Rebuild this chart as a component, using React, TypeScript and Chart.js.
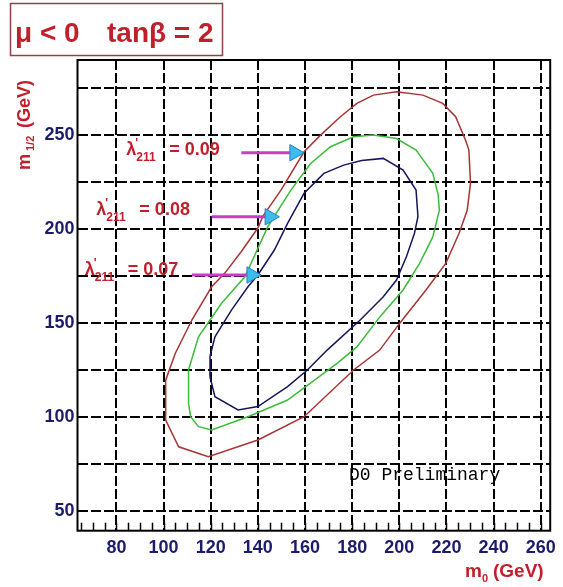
import React, { useEffect, useRef } from "react";
import { Chart, registerables } from "chart.js";

Chart.register(...registerables);

// ---- axes ----
const m0Range = [63.5, 264];
const mHalfRange = [39.3, 290];
const m0TickLabels = [80, 100, 120, 140, 160, 180, 200, 220, 240, 260];
const mHalfTickLabels = [50, 100, 150, 200, 250];
const m0Step = 20;
const mHalfStep = 25;
const m0MinorStep = 5;

// ---- contour lambda'211 = 0.09 (red, outer) ----
const red_m0 = [100.9, 105, 112, 120.4, 126, 133, 140, 142.1, 149.8, 159.6, 166.6, 175, 182, 189, 198.8, 210, 218.4, 223.9, 228.1, 229.5, 230.2, 228.8, 225.3, 219.7, 211.3, 200.1, 191.7, 180.6, 159.6, 140, 119, 106.4, 100.9];
const red_mhalf = [119.5, 133.8, 151.5, 169.2, 176.5, 188, 200.5, 206.7, 220.7, 241.1, 250, 259.8, 266.9, 271.3, 273.1, 271.3, 266.9, 259.8, 247.3, 242, 224.3, 210, 197.6, 181.7, 167.5, 149.7, 135.5, 124.9, 100, 87.6, 78.7, 84, 98.2];

// ---- contour lambda'211 = 0.08 (green, middle) ----
const green_m0 = [110.6, 110.6, 114.8, 124.6, 134.5, 144.2, 154, 162.4, 170.8, 180.6, 189, 198.8, 207.1, 214.2, 216.5, 217, 214.2, 208.6, 201.6, 191.8, 182, 173.6, 152.6, 135.8, 120.4, 114.8, 111.5];
const green_mhalf = [107, 124.9, 142.6, 160.4, 174.5, 201.2, 220.7, 234.9, 243.8, 249.1, 250, 248.2, 242, 229.6, 218, 210, 195.8, 181.7, 167.5, 153.3, 137.2, 128.4, 108.9, 100, 92.9, 94.7, 100];

// ---- contour lambda'211 = 0.07 (blue, inner) ----
const blue_m0 = [119.7, 119.7, 121.8, 128.8, 135.8, 140, 147, 152.6, 159.6, 168, 176.4, 184, 193.2, 201.6, 207.1, 207.9, 206.4, 203, 198.8, 193.2, 183.4, 169.4, 161, 152.6, 140, 131.6, 121.8];
const blue_mhalf = [121.3, 132, 142.6, 156.8, 169.2, 175.5, 188.8, 203, 219, 229.6, 234, 236.5, 237.6, 231.4, 220.7, 206.5, 197.6, 185.2, 172.8, 163.9, 151.5, 135.5, 124.9, 116, 105.4, 103.6, 110.7];

// ---- arrows and their labels ----
const lambdaValues = ["0.09", "0.08", "0.07"];
const arrowMHalf = [240.6, 206.5, 175.5];
const arrowFromM0 = [133, 120.4, 112];
const arrowHeadM0 = [155.6, 145.1, 137.4];
const labelM0 = [84.2, 71.5, 66.6];
const labelMHalf = [243.1, 211.1, 179.2];

const SANS = "'Liberation Sans', Arial, sans-serif";
const RED = "#c0202c";
const NAVY = "#1c1c6c";

const pts = (xs: number[], ys: number[]) => xs.map((x, i) => ({ x, y: ys[i] }));
const loop = (xs: number[], ys: number[]) => {
  const p = pts(xs, ys);
  p.push(p[0]);
  return p;
};

const decorPlugin = {
  id: "decor",
  afterDraw(chart: any) {
    const { ctx, chartArea: a } = chart;
    const xs = chart.scales.x;
    const ys = chart.scales.y;
    ctx.save();
    // minor ticks on bottom axis
    ctx.strokeStyle = "#000";
    ctx.lineWidth = 1.5;
    for (let v = Math.ceil(xs.min / m0MinorStep) * m0MinorStep; v <= xs.max; v += m0MinorStep) {
      const px = Math.round(xs.getPixelForValue(v)) + 0.5;
      ctx.beginPath();
      ctx.moveTo(px, a.bottom);
      ctx.lineTo(px, a.bottom - 8);
      ctx.stroke();
    }
    // frame
    ctx.lineWidth = 2;
    ctx.strokeRect(a.left, a.top, a.right - a.left, a.bottom - a.top);

    // lambda labels
    ctx.fillStyle = RED;
    ctx.textAlign = "left";
    ctx.textBaseline = "alphabetic";
    lambdaValues.forEach((val, i) => {
      const px = xs.getPixelForValue(labelM0[i]);
      const py = ys.getPixelForValue(labelMHalf[i]);
      ctx.font = `bold 18px ${SANS}`;
      ctx.fillText("\u03BB", px, py + 6.5);
      ctx.font = `bold 12px ${SANS}`;
      ctx.fillText("'", px + 9, py - 1);
      ctx.fillText("211", px + 10, py + 13);
      ctx.font = `bold 18px ${SANS}`;
      ctx.fillText("= " + val, px + 43, py + 6.5);
    });

    // title box
    ctx.strokeStyle = "#8a4646";
    ctx.lineWidth = 1.5;
    ctx.strokeRect(10.5, 3.5, 212, 52);
    ctx.fillStyle = RED;
    ctx.font = `bold 28px ${SANS}`;
    ctx.fillText("\u03BC < 0", 15, 42);
    ctx.fillText("tan\u03B2 = 2", 107, 42);

    // y axis title (rotated)
    ctx.save();
    ctx.translate(30, 170);
    ctx.rotate(-Math.PI / 2);
    ctx.font = `bold 18px ${SANS}`;
    ctx.fillText("m", 0, 0);
    ctx.font = `bold 11px ${SANS}`;
    ctx.fillText("1/2", 19, 4);
    ctx.font = `bold 18px ${SANS}`;
    ctx.fillText("(GeV)", 42, 0);
    ctx.restore();

    // x axis title
    ctx.font = `bold 19px ${SANS}`;
    ctx.fillText("m", 465, 577);
    ctx.font = `bold 11px ${SANS}`;
    ctx.fillText("0", 482, 582);
    ctx.font = `bold 19px ${SANS}`;
    ctx.fillText("(GeV)", 493, 577);

    // D0 Preliminary
    ctx.fillStyle = "#000";
    ctx.font = `18px 'Liberation Mono', 'DejaVu Sans Mono', monospace`;
    ctx.fillText("D0 Preliminary", 349, 480);
    ctx.restore();
  },
};

export default function App() {
  const ref = useRef<HTMLCanvasElement>(null);
  useEffect(() => {
    if (!ref.current) return;
    const datasets: any[] = [];
    datasets.push({
      data: pts(arrowHeadM0, arrowMHalf),
      showLine: false,
      pointStyle: "triangle",
      rotation: 90,
      pointRadius: 9.5,
      backgroundColor: "#3cbce8",
      borderColor: "#2a7ccc",
      borderWidth: 1,
    });
    arrowMHalf.forEach((yv, i) => {
      datasets.push({
        data: [
          { x: arrowFromM0[i], y: yv },
          { x: arrowHeadM0[i], y: yv },
        ],
        showLine: true,
        pointRadius: 0,
        borderColor: "#c83cc8",
        borderWidth: 3,
      });
    });
    datasets.push({ data: loop(blue_m0, blue_mhalf), showLine: true, pointRadius: 0, borderColor: "#16165e", borderWidth: 1.5, tension: 0 });
    datasets.push({ data: loop(green_m0, green_mhalf), showLine: true, pointRadius: 0, borderColor: "#3cbc3c", borderWidth: 1.5, tension: 0 });
    datasets.push({ data: loop(red_m0, red_mhalf), showLine: true, pointRadius: 0, borderColor: "#a83434", borderWidth: 1.5, tension: 0 });

    const chart = new Chart(ref.current, {
      type: "scatter",
      data: { datasets },
      options: {
        animation: false,
        responsive: false,
        devicePixelRatio: 1,
        layout: { padding: { top: 60, right: 7, left: 0, bottom: 0 } },
        plugins: { legend: { display: false }, tooltip: { enabled: false } },
        scales: {
          x: {
            type: "linear",
            position: "bottom",
            min: m0Range[0],
            max: m0Range[1],
            afterFit: (s: any) => {
              s.height = 56.3;
            },
            ticks: {
              stepSize: m0Step,
              includeBounds: false,
              autoSkip: false,
              maxRotation: 0,
              padding: 7,
              color: NAVY,
              font: { family: SANS, size: 18, weight: "bold" },
              callback: (v: any) => (m0TickLabels.includes(Number(v)) ? String(v) : ""),
            },
            grid: { color: "#000", lineWidth: 2, drawTicks: false },
            border: { display: false, dash: [10, 3] },
          },
          y: {
            type: "linear",
            position: "left",
            min: mHalfRange[0],
            max: mHalfRange[1],
            afterFit: (s: any) => {
              s.width = 77.5;
            },
            ticks: {
              stepSize: mHalfStep,
              includeBounds: false,
              autoSkip: false,
              padding: 3,
              color: NAVY,
              font: { family: SANS, size: 18, weight: "bold" },
              callback: (v: any) => (mHalfTickLabels.includes(Number(v)) ? String(v) : ""),
            },
            grid: { color: "#000", lineWidth: 2, drawTicks: false },
            border: { display: false, dash: [10, 3] },
          },
        },
      },
      plugins: [decorPlugin],
    } as any);
    return () => chart.destroy();
  }, []);
  return (
    <div style={{ position: "absolute", left: 0, top: 0, width: 563, height: 587, background: "#fff" }}>
      <canvas ref={ref} width={563} height={587} style={{ width: 563, height: 587 }} />
    </div>
  );
}
